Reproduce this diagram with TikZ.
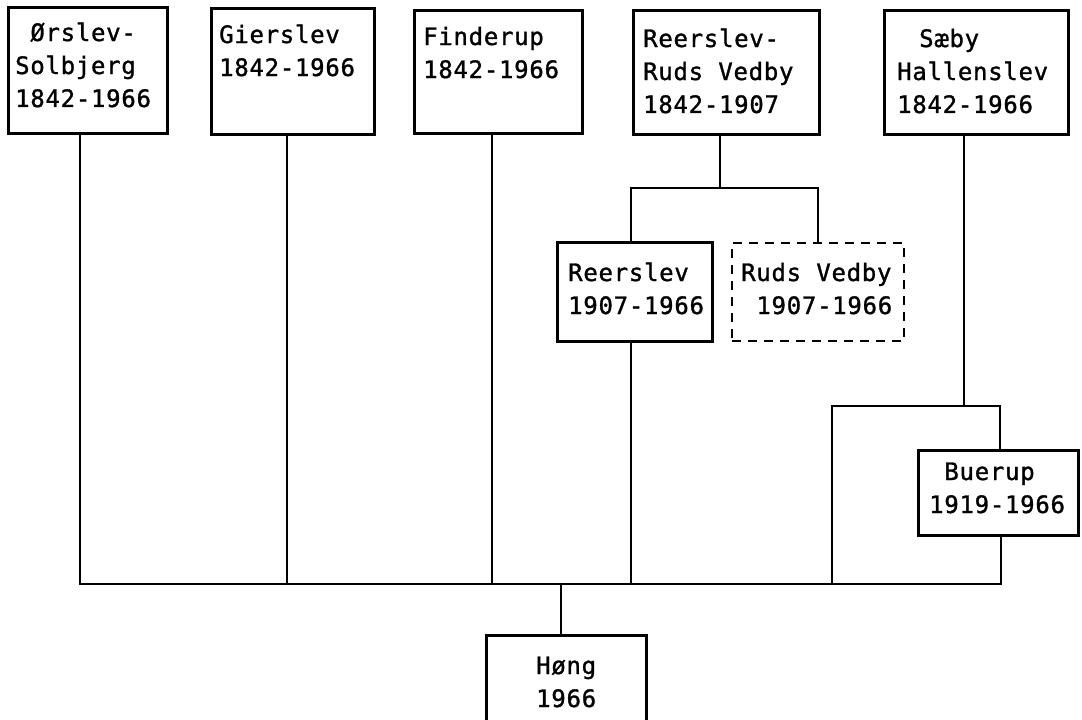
\documentclass[tikz,border=0pt]{standalone}
\usepackage{fontspec}
\newfontfamily\tw{DejaVu Sans Mono}[LetterSpace=3,FakeBold=1.2]
\newcommand\gap{\hspace{15.2pt}}
\begin{document}
\begin{tikzpicture}[x=1pt,y=-1pt,
  box/.style={draw, line width=2.8pt, inner sep=0pt, anchor=north west},
  dbox/.style={box, line width=2.2pt, dash pattern=on 9pt off 7pt},
  lbl/.style={anchor=base west, inner sep=0pt, align=left, text width=180pt,
              font=\tw\fontsize{24}{33}\selectfont},
  conn/.style={line width=2pt}]
\useasboundingbox (0,0) rectangle (1082,720);
% boxes
\node[box, minimum width=159pt, minimum height=126pt] (orslev) at (7,6) {};
\node[box, minimum width=163pt, minimum height=126pt] (gierslev) at (210,7) {};
\node[box, minimum width=168pt, minimum height=123pt] (finderup) at (413,9) {};
\node[box, minimum width=186pt, minimum height=124pt] (reerrv) at (632,9) {};
\node[box, minimum width=184pt, minimum height=124pt] (saeby) at (883,9) {};
\node[box, minimum width=155pt, minimum height=99pt] (reerslev) at (556,241) {};
\node[dbox, minimum width=172pt, minimum height=98pt] (ruds) at (731,242) {};
\node[box, minimum width=160pt, minimum height=85pt] (buerup) at (917,449) {};
\node[box, minimum width=160pt, minimum height=90pt] (hong) at (485,634) {};
% texts
\node[lbl] (orslevT) at (15,41) {\gap Ørslev-\\Solbjerg\\1842-1966};
\node[lbl] (gierslevT) at (219,43) {Gierslev\\1842-1966};
\node[lbl] (finderupT) at (423,45) {Finderup\\1842-1966};
\node[lbl] (reerrvT) at (643,47) {Reerslev-\\Ruds\gap Vedby\\1842-1907};
\node[lbl] (saebyT) at (897,47) {\hspace{22pt}Sæby\\Hallenslev\\1842-1966};
\node[lbl] (reerslevT) at (568,281) {Reerslev\\1907-1966};
\node[lbl] (rudsT) at (741,281) {Ruds\gap Vedby\\\gap 1907-1966};
\node[lbl] (buerupT) at (929,480) {\gap Buerup\\1919-1966};
\node[lbl] (hongT) at (536,674) {Høng\\1966};
% junction coordinates
\coordinate (bOr) at (80,584);
\coordinate (bGi) at (287,584);
\coordinate (bFi) at (492,584);
\coordinate (bRe) at (631,584);
\coordinate (bHo) at (561,584);
\coordinate (bSa) at (832,584);
\coordinate (bBu) at (1001,584);
\coordinate (rvJ) at (720,188);
\coordinate (rvL) at (631,188);
\coordinate (rvR) at (818,188);
\coordinate (saJ) at (964,406);
\coordinate (saL) at (832,406);
\coordinate (saR) at (1000,406);
% connectors
\draw[conn] (orslev.south -| bOr) -- (bOr) -- (bBu) -- (buerup.south -| bBu);
\draw[conn] (gierslev.south -| bGi) -- (bGi);
\draw[conn] (finderup.south -| bFi) -- (bFi);
\draw[conn] (reerrv.south -| rvJ) -- (rvJ);
\draw[conn] (reerslev.north -| rvL) -- (rvL) -- (rvR) -- (ruds.north -| rvR);
\draw[conn] (reerslev.south -| bRe) -- (bRe);
\draw[conn] (saeby.south -| saJ) -- (saJ);
\draw[conn] (bSa) -- (saL) -- (saR) -- (buerup.north -| saR);
\draw[conn] (bHo) -- (hong.north -| bHo);
\end{tikzpicture}
\end{document}
